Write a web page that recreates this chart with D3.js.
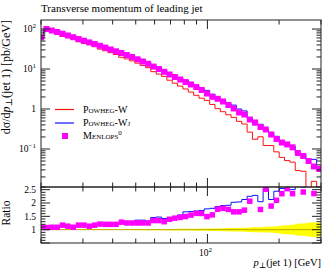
<!DOCTYPE html>
<html>
<head>
<meta charset="utf-8">
<script src="https://cdn.jsdelivr.net/npm/d3@7"></script>
<style>
  body { margin: 0; background: #fff; }
  text { font-family: "Liberation Serif", "DejaVu Serif", serif; fill: #000; }
</style>
</head>
<body>
<svg id="chart" width="332" height="272"></svg>
<script>
// bin edges of the leading jet pT histogram [GeV]
const binEdges = [19.51, 20.55, 21.64, 22.79, 24.00, 25.28, 26.62, 28.03, 29.52, 31.09,
  32.74, 34.48, 36.31, 38.24, 40.27, 42.41, 44.66, 47.03, 49.53, 52.16,
  54.93, 57.85, 60.92, 64.15, 67.56, 71.15, 74.93, 78.91, 83.10, 87.51,
  92.16, 97.05, 102.2, 107.6, 113.3, 119.4, 125.7, 132.4, 139.4, 146.8,
  154.6, 162.8, 171.4, 180.5, 190.1, 200.2, 210.8, 222.0, 233.8, 246.2,
  259.3, 273.1, 287.6, 302.9];

// dsigma/dpT [pb/GeV]
const powhegW = [56.9, 92.6, 84.1, 77.2, 65.2, 60.9, 57.2, 48.0, 43.6, 40.9,
  36.1, 31.4, 28.6, 25.6, 23.1, 19.6, 17.9, 16.0, 14.0, 12.3,
  10.8, 8.58, 7.46, 6.55, 5.24, 4.41, 3.74, 3.17, 2.65, 2.20,
  1.86, 1.64, 1.30, 1.02, 0.856, 0.716, 0.617, 0.490, 0.421, 0.264,
  0.175, 0.202, 0.122, 0.122, 0.0848, 0.0617, 0.0512, 0.0468, 0.029, 0.0277,
  0, 0.0155, 0];
const powhegWj = [60, 104, 90.8, 84.9, 73.0, 68.2, 62.9, 54.7, 50.1, 46.6,
  41.9, 37.4, 34.3, 30.7, 28.2, 24.7, 22.6, 20.5, 19.0, 16.7,
  14.3, 12.5, 11.0, 9.30, 7.55, 6.48, 5.80, 5.29, 4.45, 3.74,
  3.20, 2.92, 2.34, 1.90, 1.63, 1.37, 1.25, 1.00, 0.897, 0.594,
  0.40, 0.414, 0.310, 0.26, 0.207, 0.157, 0.128, 0.117, 0.078, 0.072,
  0.055, 0.055, 0.033];
const menlops = [62.0, 100, 91.7, 84.1, 76.3, 68.8, 62.4, 56.2, 51.0, 46.2,
  42.2, 38.0, 34.3, 30.7, 27.7, 25.1, 22.4, 20.0, 17.5, 15.4,
  13.5, 11.5, 10.0, 8.51, 7.29, 6.31, 5.46, 4.73, 4.10, 3.55,
  2.99, 2.44, 2.02, 1.80, 1.54, 1.26, 1.03, 0.818, 0.729, 0.546,
  0.460, 0.355, 0.307, 0.230, 0.178, 0.145, 0.130, 0.110, 0.0794, 0.0668,
  0.0501, 0.0365, 0.0316];
// relative stat. error of the reference (Powheg-W), drawn as the yellow band
const powhegWErr = [0.012, 0.008, 0.008, 0.009, 0.009, 0.010, 0.010, 0.011, 0.011, 0.012,
  0.012, 0.013, 0.013, 0.014, 0.015, 0.016, 0.016, 0.017, 0.018, 0.019,
  0.020, 0.022, 0.023, 0.025, 0.027, 0.028, 0.030, 0.033, 0.035, 0.038,
  0.040, 0.043, 0.048, 0.052, 0.056, 0.060, 0.065, 0.070, 0.075, 0.085,
  0.10, 0.095, 0.11, 0.11, 0.13, 0.15, 0.17, 0.18, 0.22, 0.23,
  0.26, 0.28, 0.26];

const xMajorTicks = [100];
const xTickLabels = [['10', '2']];
const yMajorTicks = [0.1, 1, 10, 100];
const yTickLabels = [['10', '\u22121'], ['1', ''], ['10', '1'], ['10', '2']];
const ratioTicks = [1, 1.5, 2, 2.5];
const ratioTickLabels = ['1', '1.5', '2', '2.5'];

const svg = d3.select('#chart');
const plotLeft = 41, plotRight = 321, plotTop = 20, plotMid = 187, plotBottom = 243;

const x = d3.scaleLog().domain([20, 300]).range([plotLeft, plotRight]);
const yMain = d3.scaleLog().domain([0.0112, 168]).range([plotMid, plotTop]);
const yRatio = d3.scaleLinear().domain([0.5, 2.6]).range([plotBottom, plotMid]);

const bins = d3.range(binEdges.length - 1).map(i => ({
  x0: binEdges[i],
  x1: binEdges[i + 1],
  xc: Math.sqrt(binEdges[i] * binEdges[i + 1]),
  w: powhegW[i],
  wj: powhegWj[i],
  m: menlops[i],
  err: powhegWErr[i]
}));

svg.append('clipPath').attr('id', 'clipMain')
  .append('rect').attr('x', plotLeft).attr('y', plotTop)
  .attr('width', plotRight - plotLeft).attr('height', plotMid - plotTop);
svg.append('clipPath').attr('id', 'clipRatio')
  .append('rect').attr('x', plotLeft).attr('y', plotMid)
  .attr('width', plotRight - plotLeft).attr('height', plotBottom - plotMid);

// histogram as a step line; zero bins fall below the frame
function stepPoints(accessor, yScale) {
  const pts = [];
  bins.forEach(b => {
    const v = accessor(b);
    const y = (v == null || !isFinite(v)) ? null : (v > 0 ? yScale(v) : yScale.range()[0] + 30);
    pts.push([x(b.x0), y], [x(b.x1), y]);
  });
  return pts;
}
const line = d3.line().defined(d => d[1] != null);

const main = svg.append('g').attr('clip-path', 'url(#clipMain)');
main.append('path').attr('d', line(stepPoints(b => b.w, yMain)))
  .attr('fill', 'none').attr('stroke', '#ff1010').attr('stroke-width', 1);
main.append('path').attr('d', line(stepPoints(b => b.wj, yMain)))
  .attr('fill', 'none').attr('stroke', '#1010ff').attr('stroke-width', 1);
main.selectAll('rect.m').data(bins.filter(b => b.m > 0)).enter()
  .append('rect').attr('class', 'm')
  .attr('x', d => x(d.xc) - 3).attr('y', d => yMain(d.m) - 3)
  .attr('width', 6).attr('height', 6)
  .attr('fill', '#ff00ff');

// ratio panel
const ratio = svg.append('g').attr('clip-path', 'url(#clipRatio)');
const band = d3.area()
  .x(d => x(d.p))
  .y0(d => yRatio(1 - d.e))
  .y1(d => yRatio(1 + d.e));
const bandData = [];
bins.forEach(b => { bandData.push({ p: b.x0, e: b.err }, { p: b.x1, e: b.err }); });
ratio.append('path').attr('d', band(bandData)).attr('fill', '#ffff00');
ratio.append('path').attr('d', line(stepPoints(b => 1, yRatio)))
  .attr('fill', 'none').attr('stroke', '#b8a800').attr('stroke-width', 1);
ratio.append('path').attr('d', line(stepPoints(b => b.w > 0 ? b.wj / b.w : null, yRatio)))
  .attr('fill', 'none').attr('stroke', '#1010ff').attr('stroke-width', 1);
ratio.selectAll('rect.m').data(bins.filter(b => b.w > 0 && b.m / b.w < 2.6)).enter()
  .append('rect').attr('class', 'm')
  .attr('x', d => x(d.xc) - 2.75).attr('y', d => yRatio(d.m / d.w) - 2.75)
  .attr('width', 5.5).attr('height', 5.5)
  .attr('fill', '#ff00ff');

// frames and ticks
const axes = svg.append('g').attr('stroke', '#222').attr('stroke-width', 1).attr('fill', 'none');
axes.append('rect').attr('x', plotLeft).attr('y', plotTop)
  .attr('width', plotRight - plotLeft).attr('height', plotMid - plotTop);
axes.append('rect').attr('x', plotLeft).attr('y', plotMid)
  .attr('width', plotRight - plotLeft).attr('height', plotBottom - plotMid);

function tick(x1, y1, x2, y2) {
  axes.append('line').attr('x1', x1).attr('y1', y1).attr('x2', x2).attr('y2', y2);
}
const majorLen = 9, minorLen = 4.5;

x.ticks().forEach(t => {
  const len = xMajorTicks.includes(t) ? majorLen : minorLen;
  const px = x(t);
  tick(px, plotTop, px, plotTop + len);
  tick(px, plotMid, px, plotMid - len);
  tick(px, plotMid, px, plotMid + len);
  tick(px, plotBottom, px, plotBottom - len);
});
yMain.ticks().forEach(t => {
  const major = yMajorTicks.some(m => Math.abs(m - t) / m < 1e-6);
  const len = major ? majorLen : minorLen;
  const py = yMain(t);
  tick(plotLeft, py, plotLeft + len, py);
  tick(plotRight, py, plotRight - len, py);
});
d3.range(5, 27).map(i => i / 10).forEach(t => {
  const len = (Math.abs(t * 2 - Math.round(t * 2)) < 1e-6) ? majorLen : minorLen;
  const py = yRatio(t);
  tick(plotLeft, py, plotLeft + len, py);
  tick(plotRight, py, plotRight - len, py);
});

// tick labels
const labels = svg.append('g').attr('font-size', 9.5);
yMajorTicks.forEach((t, i) => {
  const txt = labels.append('text').attr('x', 36).attr('y', yMain(t) + 3.2).attr('text-anchor', 'end');
  txt.append('tspan').text(yTickLabels[i][0]);
  if (yTickLabels[i][1]) {
    txt.append('tspan').attr('dy', -4).attr('font-size', 7).text(yTickLabels[i][1]);
  }
});
ratioTicks.forEach((t, i) => {
  labels.append('text').attr('x', 36).attr('y', yRatio(t) + 3.2).attr('text-anchor', 'end')
    .text(ratioTickLabels[i]);
});
xMajorTicks.forEach((t, i) => {
  const txt = labels.append('text').attr('x', x(t) - 2).attr('y', 256).attr('text-anchor', 'middle');
  txt.append('tspan').text(xTickLabels[i][0]);
  txt.append('tspan').attr('dy', -4).attr('font-size', 7).text(xTickLabels[i][1]);
});

// titles
svg.append('text').attr('x', plotLeft).attr('y', 11.5).attr('font-size', 11)
  .text('Transverse momentum of leading jet');

const xLabel = svg.append('text').attr('x', plotRight).attr('y', 266)
  .attr('text-anchor', 'end').attr('font-size', 10.5);
xLabel.append('tspan').attr('font-style', 'italic').text('p');
xLabel.append('tspan').attr('dy', 2).attr('font-size', 8).text('\u22a5');
xLabel.append('tspan').attr('dy', -2).text('(jet 1) [GeV]');

const yLabel = svg.append('text').attr('transform', 'translate(10,20) rotate(-90)')
  .attr('text-anchor', 'end').attr('font-size', 12);
yLabel.append('tspan').text('d\u03c3/d');
yLabel.append('tspan').attr('font-style', 'italic').text('p');
yLabel.append('tspan').attr('dy', 2).attr('font-size', 9).text('\u22a5');
yLabel.append('tspan').attr('dy', -2).text('(jet 1) [pb/GeV]');

svg.append('text').attr('transform', 'translate(10,213) rotate(-90)')
  .attr('text-anchor', 'middle').attr('font-size', 11.5).text('Ratio');

// legend
const legendNames = ['Powheg-W', 'Powheg-Wj', 'Menlops'];
const legendColors = ['#ff1010', '#1010ff', '#ff00ff'];
const legendY = [109.5, 123, 136];
const legend = svg.append('g');
legendNames.forEach((name, i) => {
  if (i < 2) {
    legend.append('line').attr('x1', 55).attr('x2', 74).attr('y1', legendY[i]).attr('y2', legendY[i])
      .attr('stroke', legendColors[i]).attr('stroke-width', 1.2);
  } else {
    legend.append('rect').attr('x', 62).attr('y', legendY[i] - 3).attr('width', 6).attr('height', 6)
      .attr('fill', legendColors[i]);
  }
  const t = legend.append('text').attr('x', 83).attr('y', legendY[i] + 3.4)
    .attr('font-size', 10).style('font-variant', 'small-caps');
  t.append('tspan').text(name);
  if (i === 2) t.append('tspan').attr('dy', -4).attr('font-size', 7).text('0');
});
</script>
</body>
</html>
